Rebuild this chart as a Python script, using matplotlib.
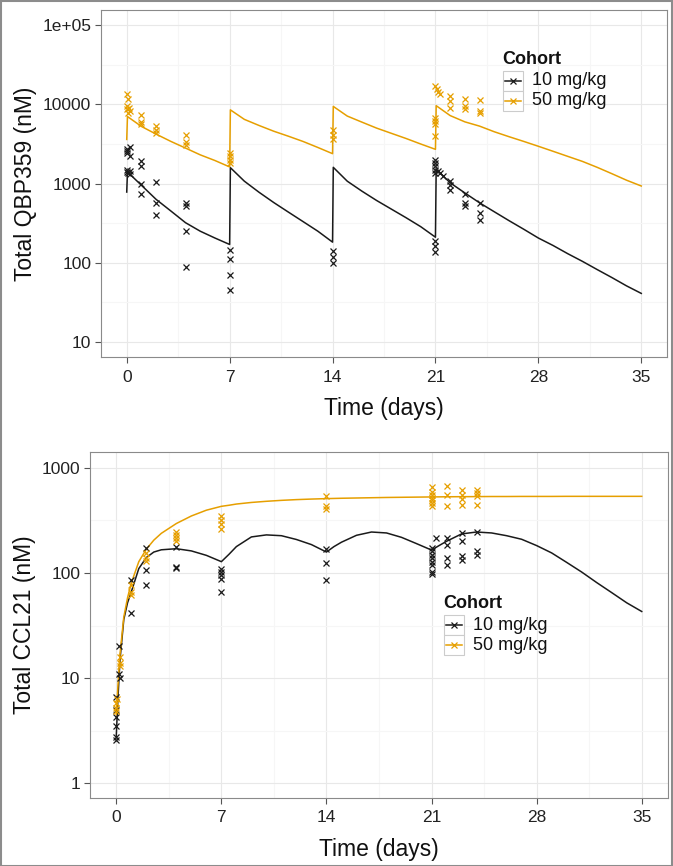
import numpy as np
import matplotlib
matplotlib.use("Agg")
import matplotlib.pyplot as plt
from matplotlib.lines import Line2D
from matplotlib.patches import Rectangle

plt.rcParams['font.family'] = ['Liberation Sans', 'DejaVu Sans']

# ---------------- data ----------------
cohorts = ["10 mg/kg", "50 mg/kg"]
colors = ["#1a1a1a", "#E69F00"]

# Top panel: model curves (Total QBP359, nM)
qbp_model_t = [0, 0.05, 1, 2, 3, 4, 5, 6, 7,
               7.05, 8, 9, 10, 11, 12, 13, 14,
               14.05, 15, 16, 17, 18, 19, 20, 21,
               21.05, 22, 23, 24, 25, 26, 27, 28, 29, 30, 31, 32, 33, 34, 35]
qbp_model_10 = [780, 1400, 950, 630, 450, 320, 250, 205, 170,
                1585, 1070, 775, 575, 435, 330, 250, 182,
                1600, 1070, 800, 610, 475, 370, 285, 210,
                1520, 1020, 760, 570, 440, 340, 265, 205, 165, 130, 104, 82, 65, 51, 41]
qbp_model_50 = [3600, 7000, 5250, 4200, 3400, 2800, 2300, 1950, 1620,
                8500, 6450, 5400, 4570, 3950, 3390, 2850, 2380,
                9400, 7100, 5950, 5000, 4300, 3700, 3150, 2700,
                9600, 7200, 6000, 5300, 4500, 3900, 3400, 2950, 2550, 2200, 1900, 1600, 1330, 1100, 930]

# Top panel: observations
qbp_obs_t_10 = [0, 0, 0, 0.25, 0.25, 0, 0, 0.1, 0.2, 0.25,
                1, 1, 1, 1, 2, 2, 2, 4, 4, 4, 4,
                7, 7, 7, 7, 14, 14, 14,
                21, 21, 21, 21, 21, 21.2, 21.3, 21.5, 21, 21, 21,
                22, 22, 22, 23, 23, 23, 24, 24, 24]
qbp_obs_v_10 = [2750, 2570, 2400, 2900, 2240, 1500, 1400, 1350, 1300, 1420,
                1900, 1650, 1000, 740, 1040, 560, 405, 560, 520, 250, 89,
                144, 110, 69, 45, 142, 118, 100,
                2000, 1820, 1660, 1500, 1350, 1450, 1350, 1250, 186, 162, 138,
                1070, 970, 830, 730, 570, 520, 560, 420, 350]
qbp_obs_t_50 = [0, 0.1, 0, 0.05, 0.15, 0.25, 0.1,
                1, 1, 1, 2, 2, 2, 4, 4, 4,
                7, 7, 7, 7, 14, 14, 14,
                21, 21.1, 21.2, 21.3, 21, 21, 21, 21,
                22, 22, 22, 23, 23, 23, 24, 24, 24]
qbp_obs_v_50 = [13500, 11500, 9600, 8700, 9000, 8200, 7800,
                7400, 5900, 5600, 5300, 4800, 4400, 4100, 3300, 3100,
                2460, 2240, 2000, 1820, 4700, 4100, 3600,
                17000, 15500, 14100, 13400, 6800, 6200, 5600, 4000,
                12800, 11000, 9100, 11500, 9600, 8700, 11300, 8300, 7700]

# Bottom panel: model curves (Total CCL21, nM)
ccl_model_t = [0, 0.1, 0.25, 0.5, 0.75, 1, 1.5, 2, 2.5, 3, 4, 5, 6, 7,
               7.5, 8, 9, 10, 11, 12, 13, 14,
               14.5, 15, 16, 17, 18, 19, 20, 21,
               21.5, 22, 23, 24, 25, 26, 27, 28, 29, 30, 31, 32, 33, 34, 35]
ccl_model_10 = [2.8, 6, 15, 36, 52, 66, 110, 140, 158, 166, 170, 162, 147, 128,
                150, 178, 220, 230, 226, 208, 186, 158,
                178, 196, 228, 245, 240, 218, 190, 165,
                182, 200, 235, 245, 240, 226, 209, 182, 155, 126, 102, 81, 65, 52, 43]
ccl_model_50 = [4.5, 8, 17, 38, 58, 80, 128, 168, 205, 238, 295, 348, 395, 430,
                440, 452, 468, 480, 490, 498, 504, 509,
                511, 513, 516, 519, 522, 524, 526, 528,
                529, 530, 531, 532, 533, 533, 534, 534, 534, 535, 535, 535, 535, 535, 535]

# Bottom panel: observations
ccl_obs_t_10 = [0, 0, 0, 0, 0, 0, 0.2, 0.2, 0.25,
                1, 1, 2, 2, 2, 4, 4, 4,
                7, 7, 7, 7, 7, 14, 14, 14,
                21, 21, 21, 21, 21, 21, 21, 21, 21.3,
                22, 22, 22, 22, 23, 23, 23, 23, 24, 24, 24]
ccl_obs_v_10 = [2.75, 2.6, 3.5, 4.3, 5.0, 6.6, 20, 11, 10,
                85, 42, 173, 107, 76, 178, 115, 112,
                110, 102, 95, 88, 66, 168, 124, 86,
                173, 160, 148, 138, 128, 120, 103, 97, 215,
                215, 185, 138, 120, 240, 200, 145, 132, 245, 160, 148]
ccl_obs_t_50 = [0, 0, 0, 0.05, 0.25, 0.25, 0.25,
                1, 1, 1, 2, 2, 2, 4, 4, 4, 4,
                7, 7, 7, 7, 14, 14, 14,
                21, 21, 21, 21, 21, 21, 21,
                22, 22, 22, 23, 23, 23, 23, 24, 24, 24, 24]
ccl_obs_v_50 = [5.8, 5.2, 4.9, 6.3, 16, 14, 13,
                77, 66, 62, 155, 140, 130, 245, 230, 215, 200,
                345, 320, 290, 262, 535, 430, 405,
                660, 590, 555, 515, 490, 460, 430,
                670, 555, 430, 620, 555, 500, 445, 620, 575, 535, 445]

x_ticks = [0, 7, 14, 21, 28, 35]
qbp_yticks = [10, 100, 1000, 10000, 100000]
qbp_yticklabels = ["10", "100", "1000", "10000", "1e+05"]
ccl_yticks = [1, 10, 100, 1000]
ccl_yticklabels = ["1", "10", "100", "1000"]

# ---------------- figure ----------------
W, H = 673, 866
fig = plt.figure(figsize=(W / 100, H / 100), dpi=100)
fig.patch.set_facecolor("white")


def fx(x):
    return x / W


def fy(y):
    return 1 - y / H


def style_axes(ax, yticks, yticklabels, ylim, ylabel):
    ax.set_yscale("log")
    ax.set_xticks(x_ticks)
    ax.set_xticklabels([str(v) for v in x_ticks])
    ax.set_xticks([3.5, 10.5, 17.5, 24.5, 31.5], minor=True)
    ax.set_yticks(yticks)
    ax.set_yticklabels(yticklabels)
    minor = [v * np.sqrt(10) for v in yticks] + [yticks[0] / np.sqrt(10)]
    ax.set_yticks(minor, minor=True)
    ax.yaxis.set_minor_formatter(matplotlib.ticker.NullFormatter())
    ax.set_xlim(-1.75, 36.75)
    ax.set_ylim(*ylim)
    ax.grid(True, which="major", color="#e8e8e8", lw=0.8)
    ax.grid(True, which="minor", color="#f6f6f6", lw=0.8)
    ax.set_axisbelow(True)
    for s in ax.spines.values():
        s.set_color("#8a8a8a")
        s.set_linewidth(0.8)
    ax.tick_params(which="major", length=4, width=0.8, color="#555555",
                   labelsize=12.5, labelcolor="#222222", pad=3)
    ax.tick_params(axis="x", which="major", pad=5)
    ax.tick_params(which="minor", length=0)
    ax.set_xlabel("Time (days)", fontsize=16.5, color="#111111", labelpad=9)
    ax.set_ylabel(ylabel, fontsize=16.5, color="#111111", labelpad=4)


def draw_legend(x0, ytitle, yrows):
    fig.text(fx(x0 - 1), fy(ytitle), "Cohort", fontsize=13, fontweight="bold",
             va="center", ha="left", color="#111111")
    for lab, col, yc in zip(cohorts, colors, yrows):
        fig.patches.append(Rectangle((fx(x0), fy(yc + 10)), 20 / W, 20 / H,
                                     transform=fig.transFigure, facecolor="white",
                                     edgecolor="#cccccc", lw=0.8))
        fig.lines.append(Line2D([fx(x0 + 2), fx(x0 + 18)], [fy(yc), fy(yc)],
                                transform=fig.transFigure, color=col, lw=1.1))
        fig.lines.append(Line2D([fx(x0 + 10)], [fy(yc)], transform=fig.transFigure,
                                color=col, marker="x", ms=4.5, mew=0.9, ls="none"))
        fig.text(fx(x0 + 29), fy(yc), lab, fontsize=13, va="center", ha="left",
                 color="#111111")


# Top panel
ax1 = fig.add_axes([fx(101), fy(357), fx(667) - fx(101), fy(10) - fy(357)])
ax1.plot(qbp_model_t, qbp_model_10, color=colors[0], lw=1.1)
ax1.plot(qbp_model_t, qbp_model_50, color=colors[1], lw=1.1)
ax1.plot(qbp_obs_t_10, qbp_obs_v_10, ls="none", marker="x", ms=5, mew=0.9, color=colors[0])
ax1.plot(qbp_obs_t_50, qbp_obs_v_50, ls="none", marker="x", ms=5, mew=0.9, color=colors[1])
style_axes(ax1, qbp_yticks, qbp_yticklabels, (10 ** 0.81, 10 ** 5.19), "Total QBP359 (nM)")

# Bottom panel
ax2 = fig.add_axes([fx(90), fy(798), fx(668) - fx(90), fy(452) - fy(798)])
ax2.plot(ccl_model_t, ccl_model_10, color=colors[0], lw=1.1)
ax2.plot(ccl_model_t, ccl_model_50, color=colors[1], lw=1.1)
ax2.plot(ccl_obs_t_10, ccl_obs_v_10, ls="none", marker="x", ms=5, mew=0.9, color=colors[0])
ax2.plot(ccl_obs_t_50, ccl_obs_v_50, ls="none", marker="x", ms=5, mew=0.9, color=colors[1])
style_axes(ax2, ccl_yticks, ccl_yticklabels, (10 ** -0.14, 10 ** 3.15), "Total CCL21 (nM)")

draw_legend(503, 59, [80.5, 100.5])
draw_legend(444, 604, [625, 645])

# outer frame
fig.patches.append(Rectangle((0.5 / W, 0.5 / H), 1 - 1.5 / W, 1 - 1.5 / H,
                             transform=fig.transFigure, fill=False,
                             edgecolor="#8c8c8c", lw=1.5))

fig.savefig("out.png", dpi=100, facecolor="white")
